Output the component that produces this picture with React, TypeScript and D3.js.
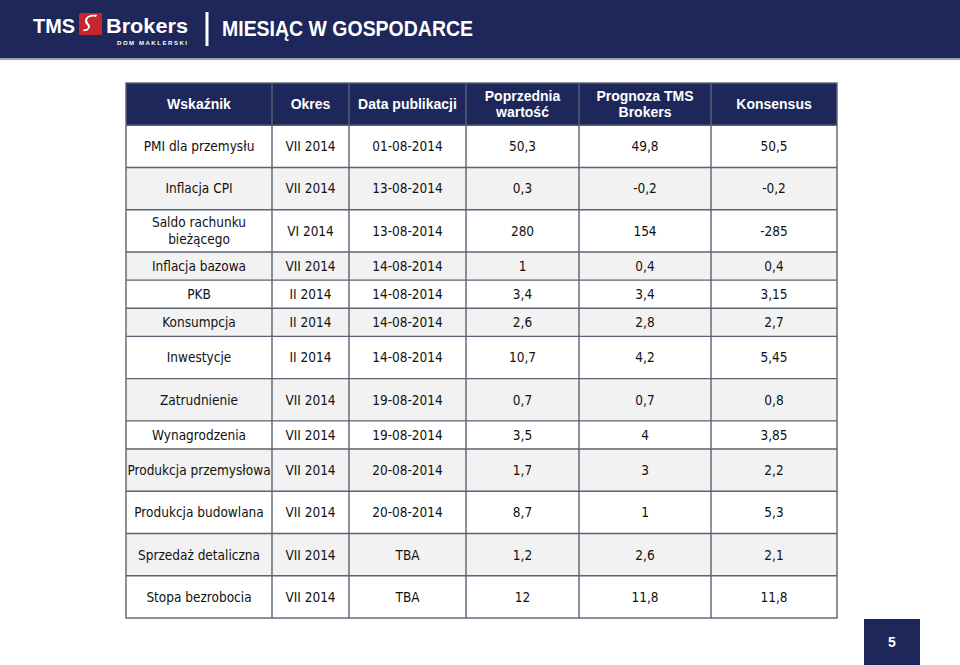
import React from "react";
import * as d3 from "d3";

const headers: string[][] = [
  ["Wskaźnik"],
  ["Okres"],
  ["Data publikacji"],
  ["Poprzednia", "wartość"],
  ["Prognoza TMS", "Brokers"],
  ["Konsensus"],
];

const indicators: string[][] = [
  ["PMI dla przemysłu"],
  ["Inflacja CPI"],
  ["Saldo rachunku", "bieżącego"],
  ["Inflacja bazowa"],
  ["PKB"],
  ["Konsumpcja"],
  ["Inwestycje"],
  ["Zatrudnienie"],
  ["Wynagrodzenia"],
  ["Produkcja przemysłowa"],
  ["Produkcja budowlana"],
  ["Sprzedaż detaliczna"],
  ["Stopa bezrobocia"],
];
const periods = ["VII 2014", "VII 2014", "VI 2014", "VII 2014", "II 2014", "II 2014", "II 2014", "VII 2014", "VII 2014", "VII 2014", "VII 2014", "VII 2014", "VII 2014"];
const pubDates = ["01-08-2014", "13-08-2014", "13-08-2014", "14-08-2014", "14-08-2014", "14-08-2014", "14-08-2014", "19-08-2014", "19-08-2014", "20-08-2014", "20-08-2014", "TBA", "TBA"];
const previous = ["50,3", "0,3", "280", "1", "3,4", "2,6", "10,7", "0,7", "3,5", "1,7", "8,7", "1,2", "12"];
const forecastTMS = ["49,8", "-0,2", "154", "0,4", "3,4", "2,8", "4,2", "0,7", "4", "3", "1", "2,6", "11,8"];
const consensus = ["50,5", "-0,2", "-285", "0,4", "3,15", "2,7", "5,45", "0,8", "3,85", "2,2", "5,3", "2,1", "11,8"];
// relative row heights: header + 13 rows (tall = 1.5, short = 1)
const rowWeights = [1.5, 1.5, 1.5, 1.5, 1, 1, 1, 1.5, 1.5, 1, 1.5, 1.5, 1.5, 1.5];
const colWeights = [146, 77, 117, 113, 132, 126];

const W = 960;
const H = 665;
const NAVY = "#1d2759";
const BORDER = "#5b6272";
const STRIPE = "#f2f2f2";
const BODY_FONT = "'DejaVu Sans Condensed', 'DejaVu Sans', Tahoma, sans-serif";
const HEAD_FONT = "'Liberation Sans', Arial, sans-serif";

export default function App() {
  const tableLeft = 126, tableRight = 837, tableTop = 83, tableBottom = 618;

  const rowCum = [0, ...d3.cumsum(rowWeights)];
  const yScale = d3.scaleLinear().domain([0, rowCum[rowCum.length - 1]]).range([tableTop, tableBottom]);
  const colCum = [0, ...d3.cumsum(colWeights)];
  const xScale = d3.scaleLinear().domain([0, colCum[colCum.length - 1]]).range([tableLeft, tableRight]);

  const colX = colCum.map((c) => xScale(c));
  const rowY = rowCum.map((r) => yScale(r));

  const rows = indicators.map((ind, i) => [ind, [periods[i]], [pubDates[i]], [previous[i]], [forecastTMS[i]], [consensus[i]]]);

  const cellText = (lines: string[], cx: number, cy: number, key: string, opts: { fill: string; font: string; size: number; weight: string; lh: number }) => (
    <text key={key} x={cx} textAnchor="middle" fill={opts.fill} fontFamily={opts.font} fontSize={opts.size} fontWeight={opts.weight}>
      {lines.map((l, k) => (
        <tspan key={k} x={cx} y={cy + (k - (lines.length - 1) / 2) * opts.lh} dy="0.36em">
          {l}
        </tspan>
      ))}
    </text>
  );

  return (
    <svg width={W} height={H} style={{ position: "absolute", left: 0, top: 0, display: "block" }}>
      <rect x={0} y={0} width={W} height={H} fill="#ffffff" />
      {/* Banner */}
      <rect x={0} y={0} width={W} height={59} fill={NAVY} />
      <rect x={0} y={58} width={W} height={2} fill="#9aa0b5" />
      <text x={33} y={33} fill="#ffffff" fontFamily={HEAD_FONT} fontWeight="bold" fontSize={21} textLength={42} lengthAdjust="spacingAndGlyphs">TMS</text>
      <rect x={79} y={13} width={23} height={22} rx={1.5} fill="#c4262e" />
      <path d="M96,17 C88,15 85,20 89,24 C92,27 88,32 83,31 L84,29 C88,30 89,27 87,25 C82,20 87,13 97,15 Z" fill="#ffffff" />
      <text x={106} y={33} fill="#ffffff" fontFamily={HEAD_FONT} fontWeight="bold" fontSize={21} textLength={82} lengthAdjust="spacingAndGlyphs">Brokers</text>
      <text x={117} y={45} fill="#ffffff" fontFamily={HEAD_FONT} fontWeight="bold" fontSize={6} textLength={70} lengthAdjust="spacing">DOM MAKLERSKI</text>
      <rect x={205.5} y={12} width={3} height={34} fill="#ffffff" />
      <text x={222} y={36} fill="#ffffff" fontFamily={HEAD_FONT} fontWeight="bold" fontSize={22} textLength={251} lengthAdjust="spacingAndGlyphs">MIESIĄC W GOSPODARCE</text>

      {/* Header row */}
      <rect x={tableLeft} y={rowY[0]} width={tableRight - tableLeft} height={rowY[1] - rowY[0]} fill={NAVY} />
      {headers.map((h, c) =>
        cellText(h, (colX[c] + colX[c + 1]) / 2, (rowY[0] + rowY[1]) / 2, `h${c}`, { fill: "#ffffff", font: HEAD_FONT, size: 14, weight: "bold", lh: 16 })
      )}

      {/* Body rows */}
      {rows.map((row, r) => {
        const y0 = rowY[r + 1];
        const y1 = rowY[r + 2];
        return (
          <g key={`r${r}`}>
            <rect x={tableLeft} y={y0} width={tableRight - tableLeft} height={y1 - y0} fill={r % 2 === 1 ? STRIPE : "#ffffff"} />
            {row.map((cell, c) =>
              cellText(cell, (colX[c] + colX[c + 1]) / 2, (y0 + y1) / 2, `c${r}-${c}`, { fill: "#111111", font: BODY_FONT, size: 13.5, weight: "normal", lh: 17 })
            )}
          </g>
        );
      })}

      {/* Grid lines */}
      {rowY.slice(1, -1).map((y, i) => (
        <line key={`hl${i}`} x1={tableLeft} x2={tableRight} y1={y} y2={y} stroke={BORDER} strokeWidth={1.4} />
      ))}
      {colX.slice(1, -1).map((x, i) => (
        <line key={`vl${i}`} x1={x} x2={x} y1={rowY[0]} y2={tableBottom} stroke={BORDER} strokeWidth={1.4} />
      ))}
      <rect x={tableLeft} y={tableTop} width={tableRight - tableLeft} height={tableBottom - tableTop} fill="none" stroke={BORDER} strokeWidth={1.4} />

      {/* Page number */}
      <rect x={864} y={619} width={56} height={46} fill={NAVY} />
      <text x={892} y={642} dy="0.36em" textAnchor="middle" fill="#ffffff" fontFamily={HEAD_FONT} fontWeight="bold" fontSize={14}>5</text>
    </svg>
  );
}
